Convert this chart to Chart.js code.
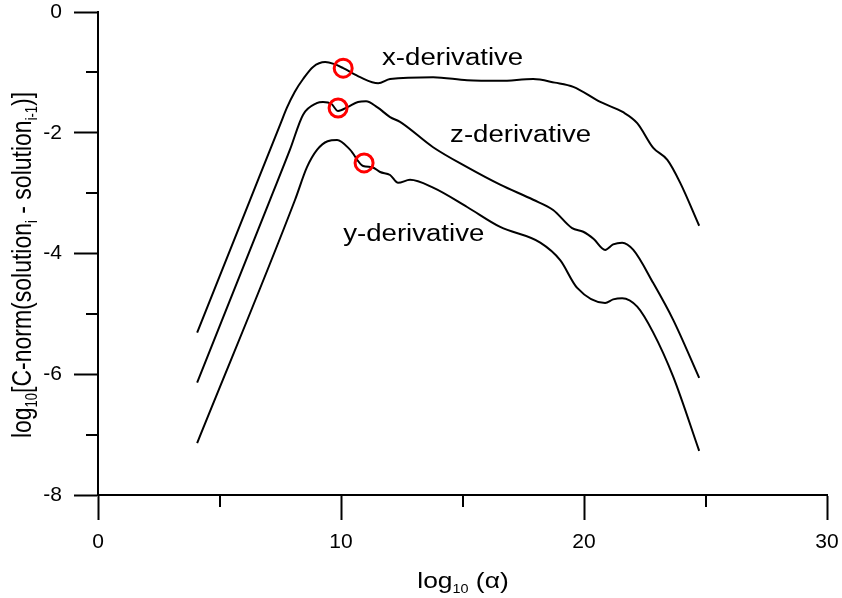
<!DOCTYPE html>
<html>
<head>
<meta charset="utf-8">
<script src="https://cdn.jsdelivr.net/npm/chart.js@4.4.1/dist/chart.umd.min.js"></script>
<style>
  html, body { margin: 0; padding: 0; background: #fff; }
  #wrap { width: 842px; height: 598px; position: relative; }
</style>
</head>
<body>
<div id="wrap"><canvas id="chart"></canvas></div>
<script>
// curve values (log10 alpha, log10 C-norm)
const xDerivAlpha = [4.08, 6.26, 7.5, 7.78, 8.1, 8.44, 8.85, 9.35, 9.7, 10.09, 10.79, 11.53, 12.02, 13.79, 15.19, 16.55, 17.91, 18.8, 19.56, 20.67, 21.61, 22.19, 22.85, 23.43, 23.96, 24.74];
const xDerivNorm  = [-5.31, -3.11, -1.86, -1.58, -1.32, -1.11, -0.91, -0.83, -0.86, -0.93, -1.08, -1.18, -1.11, -1.08, -1.13, -1.14, -1.11, -1.17, -1.24, -1.49, -1.66, -1.84, -2.25, -2.45, -2.83, -3.54];

const zDerivAlpha = [4.08, 7.08, 7.9, 8.44, 9.0, 9.26, 9.6, 9.88, 10.29, 10.7, 11.03, 11.5, 12.02, 12.43, 13.79, 15.19, 16.55, 17.91, 18.73, 19.51, 19.97, 20.4, 20.87, 21.2, 21.57, 22.03, 22.85, 23.67, 24.74];
const zDerivNorm  = [-6.14, -3.11, -2.28, -1.70, -1.51, -1.49, -1.52, -1.64, -1.57, -1.49, -1.48, -1.58, -1.74, -1.82, -2.24, -2.57, -2.86, -3.11, -3.28, -3.58, -3.64, -3.76, -3.94, -3.85, -3.82, -3.94, -4.49, -5.10, -6.06];

const yDerivAlpha = [4.08, 8.11, 8.6, 9.02, 9.45, 9.84, 10.37, 10.91, 11.28, 11.61, 12.02, 12.35, 12.84, 13.79, 15.19, 16.55, 18.2, 19.02, 19.72, 20.87, 21.2, 21.57, 22.19, 22.85, 23.67, 24.74];
const yDerivNorm  = [-7.14, -3.11, -2.57, -2.28, -2.14, -2.12, -2.28, -2.55, -2.57, -2.65, -2.70, -2.83, -2.78, -2.91, -3.23, -3.56, -3.82, -4.11, -4.57, -4.82, -4.76, -4.74, -4.88, -5.31, -6.04, -7.27];

// red circle markers
const markAlpha = [10.09, 9.88, 10.95];
const markNorm  = [-0.93, -1.59, -2.50];

// curve labels
const labelText  = ['x-derivative', 'z-derivative', 'y-derivative'];
const labelAlpha = [11.69, 14.49, 10.09];
const labelNorm  = [-0.88, -2.15, -3.80];

const yMajor = [0, -2, -4, -6, -8];
const xMajor = [0, 10, 20, 30];
const yMinor = [-1, -3, -5, -7];
const xMinor = [5, 15, 25];

const FONT = 'Arial, "Liberation Sans", Helvetica, sans-serif';
const STRETCH = 1.2;

function pts(xs, ys) {
  return xs.map((x, i) => ({ x: x, y: ys[i] }));
}

function lineSet(xs, ys) {
  return {
    data: pts(xs, ys),
    borderColor: '#000',
    borderWidth: 2,
    pointRadius: 0,
    fill: false,
    cubicInterpolationMode: 'monotone',
    order: 2
  };
}

function noPad(s) {
  s.paddingTop = 0; s.paddingBottom = 0; s.paddingLeft = 0; s.paddingRight = 0;
}

// minor ticks, labels and axis titles
const decor = {
  id: 'decor',
  afterDraw(chart) {
    const ctx = chart.ctx;
    const xs = chart.scales.x, ys = chart.scales.y;
    const area = chart.chartArea;
    ctx.save();
    ctx.strokeStyle = '#000';
    ctx.lineWidth = 2;
    yMinor.forEach(v => {
      const p = Math.round(ys.getPixelForValue(v));
      ctx.beginPath(); ctx.moveTo(area.left - 12, p); ctx.lineTo(area.left, p); ctx.stroke();
    });
    xMinor.forEach(v => {
      const p = Math.round(xs.getPixelForValue(v));
      ctx.beginPath(); ctx.moveTo(p, area.bottom); ctx.lineTo(p, area.bottom + 12); ctx.stroke();
    });

    ctx.fillStyle = '#000';
    ctx.textBaseline = 'alphabetic';
    ctx.textAlign = 'left';
    ctx.font = '23px ' + FONT;
    labelText.forEach((t, i) => {
      const px = xs.getPixelForValue(labelAlpha[i]);
      const py = ys.getPixelForValue(labelNorm[i]);
      ctx.save();
      ctx.translate(px, py);
      ctx.scale(STRETCH, 1);
      ctx.fillText(t, 0, 0);
      ctx.restore();
    });

    // runs: [text, isSubscript]
    function drawRuns(runs, size) {
      let w = 0;
      runs.forEach(r => {
        ctx.font = (r[1] ? Math.round(size * 0.55) : size) + 'px ' + FONT;
        w += ctx.measureText(r[0]).width;
      });
      let x = -w / 2;
      runs.forEach(r => {
        ctx.font = (r[1] ? Math.round(size * 0.55) : size) + 'px ' + FONT;
        ctx.fillText(r[0], x, r[1] ? size * 0.22 : 0);
        x += ctx.measureText(r[0]).width;
      });
    }

    // x title
    ctx.save();
    ctx.translate(463, 588);
    ctx.scale(STRETCH, 1);
    drawRuns([['log', false], ['10', true], [' (\u03b1)', false]], 22);
    ctx.restore();

    // y title
    ctx.save();
    ctx.translate(31, 265);
    ctx.rotate(-Math.PI / 2);
    ctx.scale(1, STRETCH);
    drawRuns([['log', false], ['10', true], ['[C-norm(solution', false], ['i', true],
              [' - solution', false], ['i-1', true], [')]', false]], 23);
    ctx.restore();
    ctx.restore();
  }
};

new Chart(document.getElementById('chart'), {
  type: 'line',
  data: {
    datasets: [
      lineSet(xDerivAlpha, xDerivNorm),
      lineSet(zDerivAlpha, zDerivNorm),
      lineSet(yDerivAlpha, yDerivNorm),
      {
        type: 'scatter',
        data: pts(markAlpha, markNorm),
        pointStyle: 'circle',
        pointRadius: 9,
        pointBorderWidth: 3,
        pointBorderColor: '#ff0000',
        pointBackgroundColor: 'rgba(0,0,0,0)',
        showLine: false,
        order: 1
      }
    ]
  },
  options: {
    responsive: true,
    maintainAspectRatio: false,
    animation: false,
    layout: { padding: { top: 12, right: 15, left: 0, bottom: 0 } },
    plugins: { legend: { display: false }, tooltip: { enabled: false } },
    scales: {
      x: {
        type: 'linear',
        min: 0, max: 30,
        afterFit(s) { s.height = 103; noPad(s); },
        afterBuildTicks(s) { s.ticks = xMajor.map(v => ({ value: v })); },
        border: { display: true, color: '#000', width: 2 },
        grid: { drawOnChartArea: false, drawTicks: true, tickLength: 25, tickWidth: 2, tickColor: '#000' },
        ticks: { color: '#000', font: { family: FONT, size: 21 }, padding: 10, maxRotation: 0 }
      },
      y: {
        type: 'linear',
        min: -8, max: 0,
        afterFit(s) { s.width = 98; noPad(s); },
        afterBuildTicks(s) { s.ticks = yMajor.map(v => ({ value: v })); },
        border: { display: true, color: '#000', width: 2 },
        grid: { drawOnChartArea: false, drawTicks: true, tickLength: 24, tickWidth: 2, tickColor: '#000' },
        ticks: { color: '#000', font: { family: FONT, size: 21 }, padding: 12 }
      }
    }
  },
  plugins: [decor]
});
</script>
</body>
</html>
